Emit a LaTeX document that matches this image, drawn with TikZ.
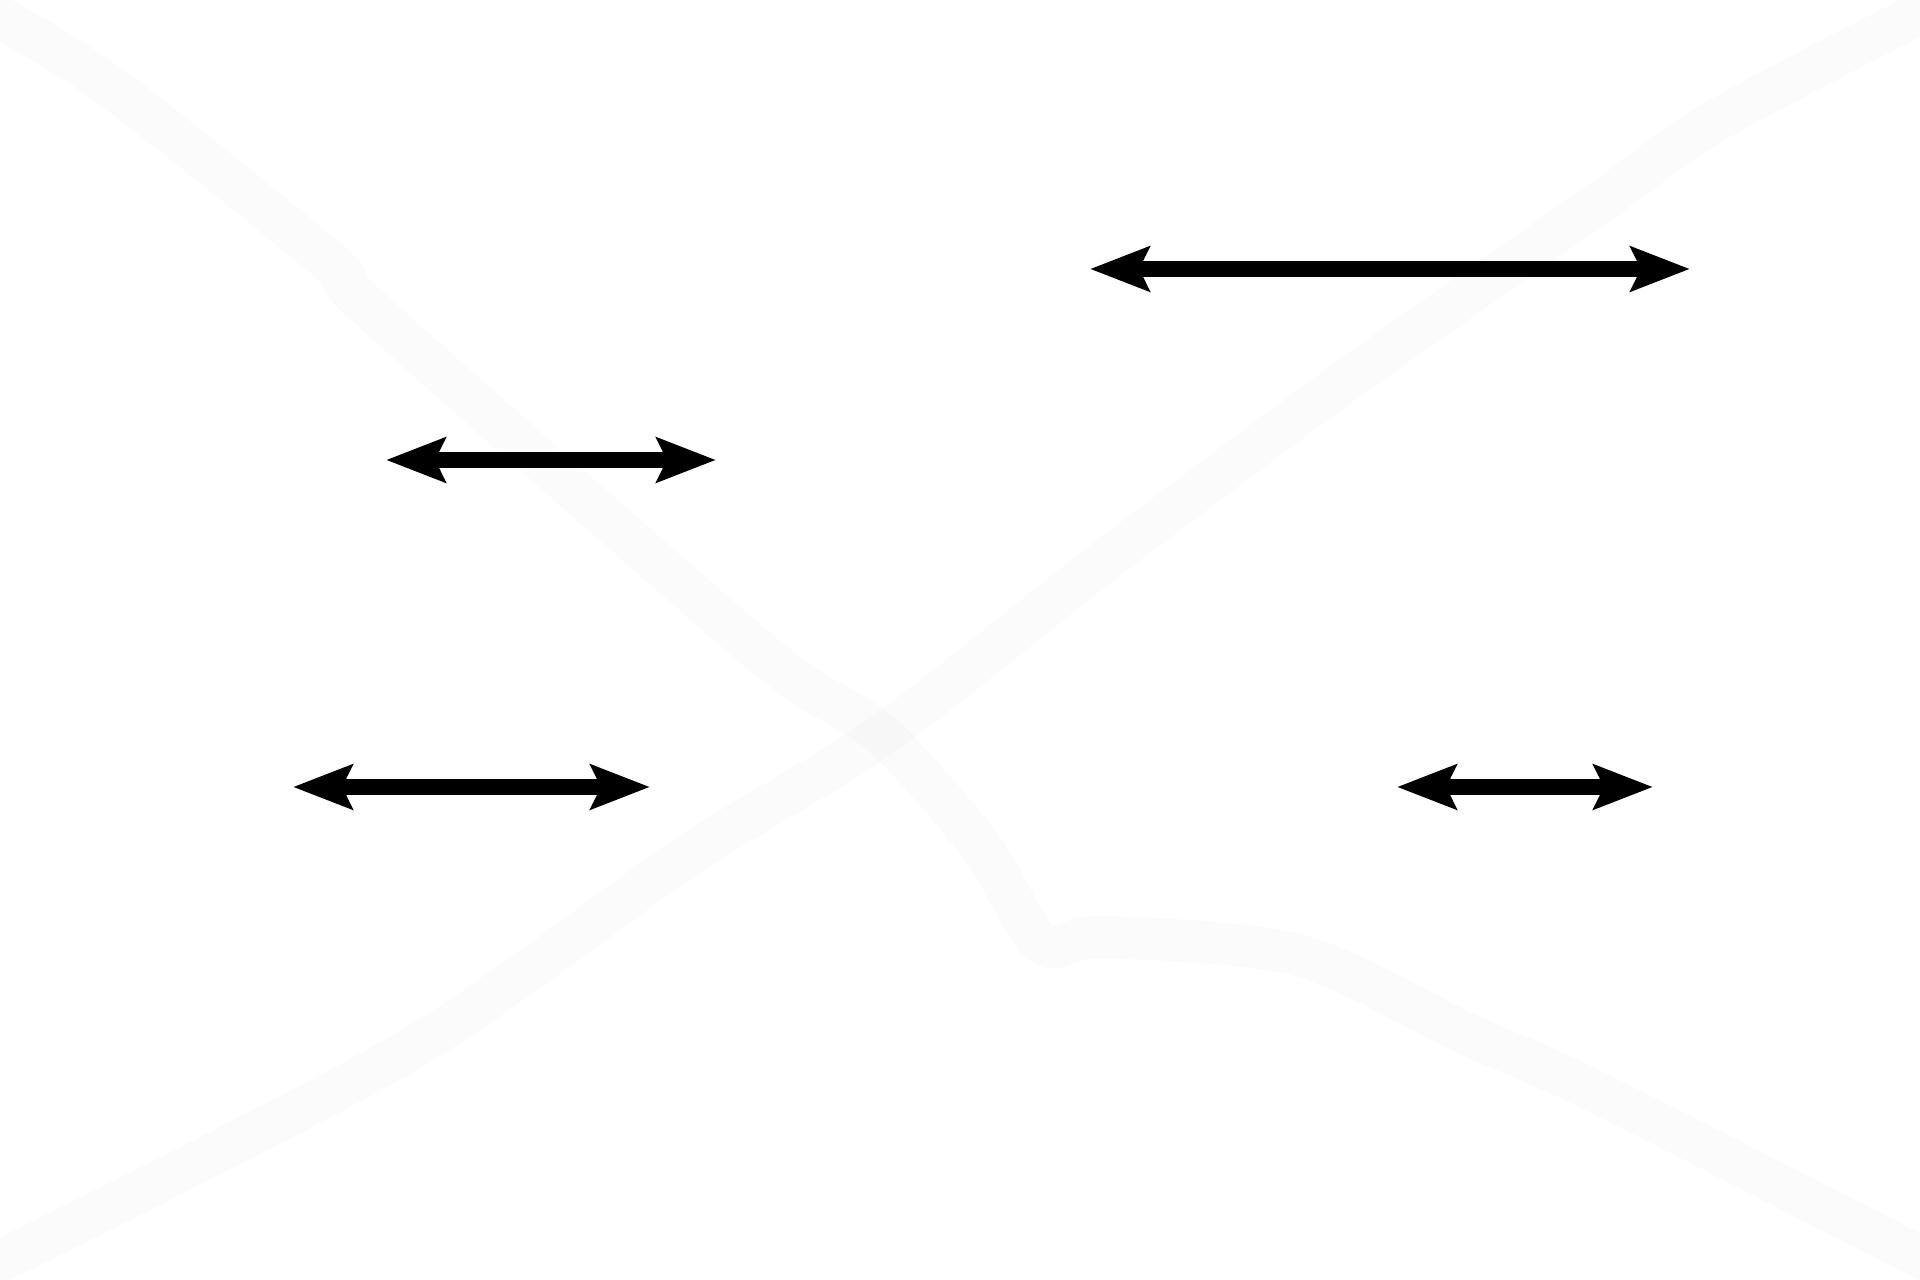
\documentclass[tikz,border=0pt]{standalone}
\usetikzlibrary{arrows.meta}
\begin{document}
\begin{tikzpicture}[x=0.01cm,y=-0.01cm,
  faint/.style={line width=12pt, draw=black, draw opacity=0.014, line cap=round, line join=round},
  span/.style={line width=4.3pt, {Stealth[length=0.59cm,width=0.44cm,inset=0.1cm]}-{Stealth[length=0.59cm,width=0.44cm,inset=0.1cm]}}]
\useasboundingbox (0,0) rectangle (1920,1280);
% background strokes
\draw [faint] plot[smooth, tension=0.5] coordinates {(-10,12) (110,86) (331,263) (367,306) (686,588) (796,680) (882,735) (980,845) (1041,943) (1102,937) (1298,955) (1469,1035) (1592,1090) (1930,1262)};
\draw [faint] plot[smooth, tension=0.5] coordinates {(-10,1266) (404,1053) (686,857) (882,735) (1102,563) (1347,380) (1592,208) (1714,122) (1930,8)};
% arrows
\coordinate (TL) at (1090,269);
\coordinate (TR) at (1690,269);
\coordinate (ML) at (386,460);
\coordinate (MR) at (716,460);
\coordinate (BL) at (293,787);
\coordinate (BR) at (650,787);
\coordinate (RL) at (1397,787);
\coordinate (RR) at (1653,787);
\draw [span] (TL) -- (TR);
\draw [span] (ML) -- (MR);
\draw [span] (BL) -- (BR);
\draw [span] (RL) -- (RR);
\end{tikzpicture}
\end{document}
